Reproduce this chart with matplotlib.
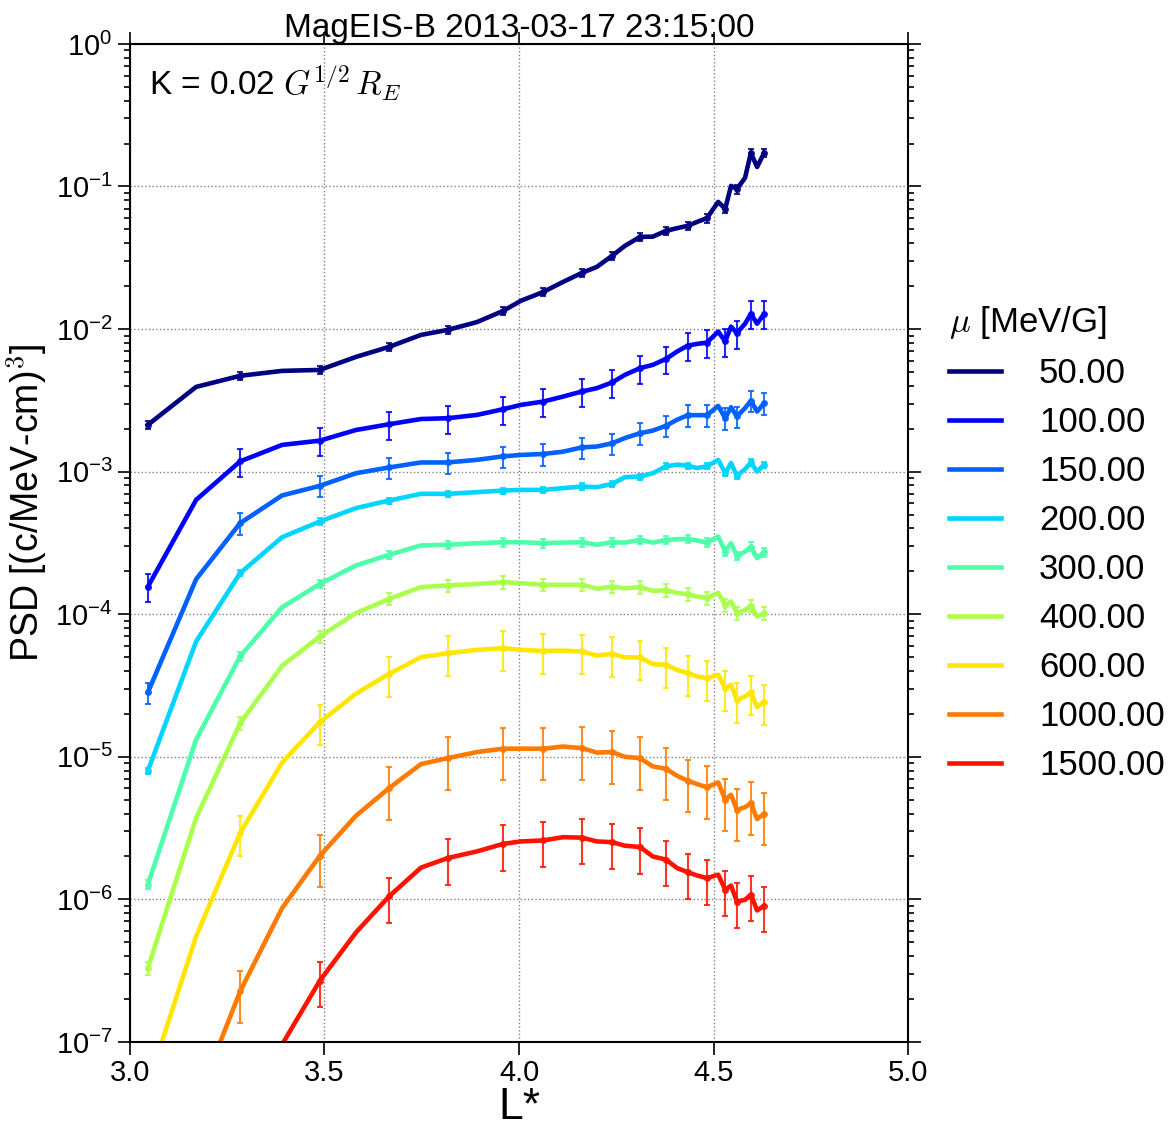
import numpy as np
import matplotlib
matplotlib.use('Agg')
import matplotlib.pyplot as plt
from matplotlib.ticker import FuncFormatter, LogLocator, NullFormatter, FixedLocator
from matplotlib import font_manager

plt.rcParams['font.family'] = ['Liberation Sans', 'DejaVu Sans']
plt.rcParams['mathtext.fontset'] = 'cm'
plt.rcParams['axes.unicode_minus'] = False

names = [f.name for f in font_manager.fontManager.ttflist]
tick_font = ['Liberation Sans Narrow'] if 'Liberation Sans Narrow' in names else ['Liberation Sans']

# L* grid of the PSD profile
lstar = [3.046, 3.170, 3.283, 3.391, 3.488, 3.581, 3.666, 3.748, 3.817, 3.892,
         3.959, 4.005, 4.062, 4.113, 4.162, 4.200, 4.239, 4.272, 4.311, 4.344,
         4.378, 4.406, 4.434, 4.458, 4.483, 4.512, 4.530, 4.545, 4.560, 4.581,
         4.596, 4.612, 4.630]

mu_labels = ['50.00', '100.00', '150.00', '200.00', '300.00', '400.00',
             '600.00', '1000.00', '1500.00']

x_ticks = [3.0, 3.5, 4.0, 4.5, 5.0]
y_ticks = [1e-7, 1e-6, 1e-5, 1e-4, 1e-3, 1e-2, 1e-1, 1e0]

psd_50 = [2.13e-3, 3.93e-3, 4.70e-3, 5.09e-3, 5.17e-3, 6.38e-3, 7.50e-3, 9.10e-3, 9.87e-3, 1.12e-2,
          1.34e-2, 1.58e-2, 1.82e-2, 2.14e-2, 2.48e-2, 2.73e-2, 3.26e-2, 3.83e-2, 4.43e-2, 4.45e-2,
          4.89e-2, 5.10e-2, 5.30e-2, 5.65e-2, 6.00e-2, 7.80e-2, 6.97e-2, 1.01e-1, 9.60e-2, 1.15e-1,
          1.72e-1, 1.37e-1, 1.72e-1]
psd_100 = [1.56e-4, 6.34e-4, 1.18e-3, 1.54e-3, 1.65e-3, 1.96e-3, 2.15e-3, 2.34e-3, 2.37e-3, 2.50e-3,
           2.74e-3, 2.94e-3, 3.10e-3, 3.36e-3, 3.65e-3, 3.85e-3, 4.22e-3, 4.77e-3, 5.32e-3, 5.61e-3,
           6.18e-3, 6.95e-3, 7.66e-3, 7.87e-3, 8.04e-3, 9.60e-3, 8.20e-3, 1.04e-2, 9.36e-3, 1.09e-2,
           1.28e-2, 1.09e-2, 1.28e-2]
psd_150 = [2.83e-5, 1.76e-4, 4.35e-4, 6.81e-4, 7.95e-4, 9.75e-4, 1.07e-3, 1.16e-3, 1.16e-3, 1.21e-3,
           1.28e-3, 1.31e-3, 1.33e-3, 1.38e-3, 1.48e-3, 1.50e-3, 1.58e-3, 1.72e-3, 1.86e-3, 1.94e-3,
           2.10e-3, 2.31e-3, 2.49e-3, 2.49e-3, 2.49e-3, 2.89e-3, 2.37e-3, 2.83e-3, 2.44e-3, 2.79e-3,
           3.14e-3, 2.64e-3, 3.02e-3]
psd_200 = [7.98e-6, 6.44e-5, 1.94e-4, 3.47e-4, 4.47e-4, 5.55e-4, 6.27e-4, 6.99e-4, 6.99e-4, 7.18e-4,
           7.37e-4, 7.45e-4, 7.45e-4, 7.66e-4, 7.87e-4, 7.78e-4, 8.20e-4, 9.14e-4, 9.24e-4, 9.75e-4,
           1.09e-3, 1.12e-3, 1.10e-3, 1.06e-3, 1.09e-3, 1.21e-3, 9.76e-4, 1.15e-3, 9.35e-4, 1.04e-3,
           1.16e-3, 1.00e-3, 1.12e-3]
psd_300 = [1.27e-6, 1.32e-5, 5.06e-5, 1.12e-4, 1.63e-4, 2.20e-4, 2.61e-4, 3.04e-4, 3.07e-4, 3.15e-4,
           3.20e-4, 3.20e-4, 3.15e-4, 3.18e-4, 3.20e-4, 3.07e-4, 3.20e-4, 3.18e-4, 3.32e-4, 3.18e-4,
           3.32e-4, 3.36e-4, 3.37e-4, 3.29e-4, 3.18e-4, 3.51e-4, 2.75e-4, 3.15e-4, 2.57e-4, 2.75e-4,
           2.98e-4, 2.47e-4, 2.72e-4]
psd_400 = [3.30e-7, 3.72e-6, 1.72e-5, 4.35e-5, 6.98e-5, 1.02e-4, 1.28e-4, 1.55e-4, 1.59e-4, 1.63e-4,
           1.68e-4, 1.65e-4, 1.61e-4, 1.61e-4, 1.61e-4, 1.51e-4, 1.56e-4, 1.52e-4, 1.55e-4, 1.46e-4,
           1.47e-4, 1.41e-4, 1.38e-4, 1.33e-4, 1.30e-4, 1.41e-4, 1.16e-4, 1.23e-4, 1.02e-4, 1.07e-4,
           1.15e-4, 9.64e-5, 1.02e-4]
psd_600 = [5.0e-8, 5.50e-7, 2.92e-6, 9.12e-6, 1.75e-5, 2.77e-5, 3.82e-5, 5.00e-5, 5.33e-5, 5.62e-5,
           5.78e-5, 5.62e-5, 5.53e-5, 5.55e-5, 5.48e-5, 5.13e-5, 5.28e-5, 4.98e-5, 4.98e-5, 4.47e-5,
           4.42e-5, 4.07e-5, 3.86e-5, 3.66e-5, 3.56e-5, 3.76e-5, 3.03e-5, 3.20e-5, 2.51e-5, 2.65e-5,
           2.83e-5, 2.23e-5, 2.44e-5]
psd_1000 = [np.nan, 3.7e-8, 2.26e-7, 8.69e-7, 2.02e-6, 3.86e-6, 6.03e-6, 8.89e-6, 9.79e-6, 1.08e-5,
            1.14e-5, 1.14e-5, 1.14e-5, 1.18e-5, 1.15e-5, 1.07e-5, 1.08e-5, 1.00e-5, 9.79e-6, 8.56e-6,
            8.24e-6, 7.36e-6, 6.79e-6, 6.43e-6, 6.12e-6, 6.61e-6, 5.00e-6, 5.42e-6, 4.25e-6, 4.43e-6,
            4.73e-6, 3.66e-6, 3.98e-6]
psd_1500 = [np.nan, np.nan, np.nan, 9.6e-8, 2.69e-7, 5.87e-7, 1.05e-6, 1.67e-6, 1.95e-6, 2.17e-6,
            2.45e-6, 2.55e-6, 2.59e-6, 2.73e-6, 2.71e-6, 2.55e-6, 2.52e-6, 2.38e-6, 2.33e-6, 2.00e-6,
            1.90e-6, 1.66e-6, 1.55e-6, 1.47e-6, 1.41e-6, 1.49e-6, 1.17e-6, 1.25e-6, 9.66e-7, 9.93e-7,
            1.08e-6, 8.36e-7, 9.02e-7]

# relative (1-sigma) PSD error of each mu channel
rel_err = [0.07, 0.22, 0.17, 0.05, 0.07, 0.10, 0.31, 0.40, 0.35]

profiles = [psd_50, psd_100, psd_150, psd_200, psd_300, psd_400, psd_600, psd_1000, psd_1500]

fig = plt.figure(figsize=(11.7, 11.29), dpi=100)
ax = fig.add_axes([0.1111, 0.0771, 0.665, 0.884])

colors = plt.cm.jet(np.arange(len(profiles)) / len(profiles))
L = np.array(lstar)
for psd, lab, c, err in zip(profiles, mu_labels, colors, rel_err):
    psd = np.array(psd, dtype=float)
    ax.plot(L, psd, color=c, lw=3.3, label=lab)
    ax.errorbar(L[::2], psd[::2], yerr=err * psd[::2], fmt='o', ms=4, color=c,
                elinewidth=1.5, capsize=2.5, capthick=1.5, alpha=0.85)

ax.set_yscale('log')
ax.set_xlim(3.0, 5.0)
ax.set_ylim(1e-7, 1e0)
ax.xaxis.set_major_locator(FixedLocator(x_ticks))
ax.xaxis.set_major_formatter(FuncFormatter(lambda v, p: f'{v:.1f}'))
ax.yaxis.set_major_locator(FixedLocator(y_ticks))
ax.yaxis.set_minor_locator(LogLocator(base=10, subs=np.arange(2, 10), numticks=20))
ax.yaxis.set_minor_formatter(NullFormatter())
ax.yaxis.set_major_formatter(FuncFormatter(
    lambda v, p: r'$\mathregular{10^{%d}}$' % int(round(np.log10(v)))))

ax.tick_params(which='both', direction='out', top=True, right=True, width=1.2)
ax.tick_params(which='major', length=9, labelsize=21)
ax.tick_params(which='minor', length=4)
for t in ax.get_xticklabels() + ax.get_yticklabels():
    t.set_family(tick_font)
for s in ax.spines.values():
    s.set_linewidth(1.5)

ax.grid(True, which='major', linestyle=':', color='gray', lw=1)

ax.set_xlabel('L*', fontsize=32, labelpad=0)
ax.set_ylabel(r'PSD [(c/MeV-cm)$^3$]', fontsize=27)
ax.yaxis.set_label_coords(-0.104, 0.54)
ax.set_title('MagEIS-B 2013-03-17 23:15:00', fontsize=24, pad=5)
ax.text(0.025, 0.982, r'K = 0.02 $G^{1/2}\,R_E$', transform=ax.transAxes,
        fontsize=24, va='top', ha='left')

leg = ax.legend(loc='center left', bbox_to_anchor=(1.012, 0.5), frameon=False,
                fontsize=25, title=r'$\mu$ [MeV/G]', title_fontsize=25,
                handlelength=1.5, handletextpad=1.1, labelspacing=0.46,
                alignment='left')
for h in leg.get_lines():
    h.set_linewidth(3.3)

fig.savefig('out.png', dpi=100)
